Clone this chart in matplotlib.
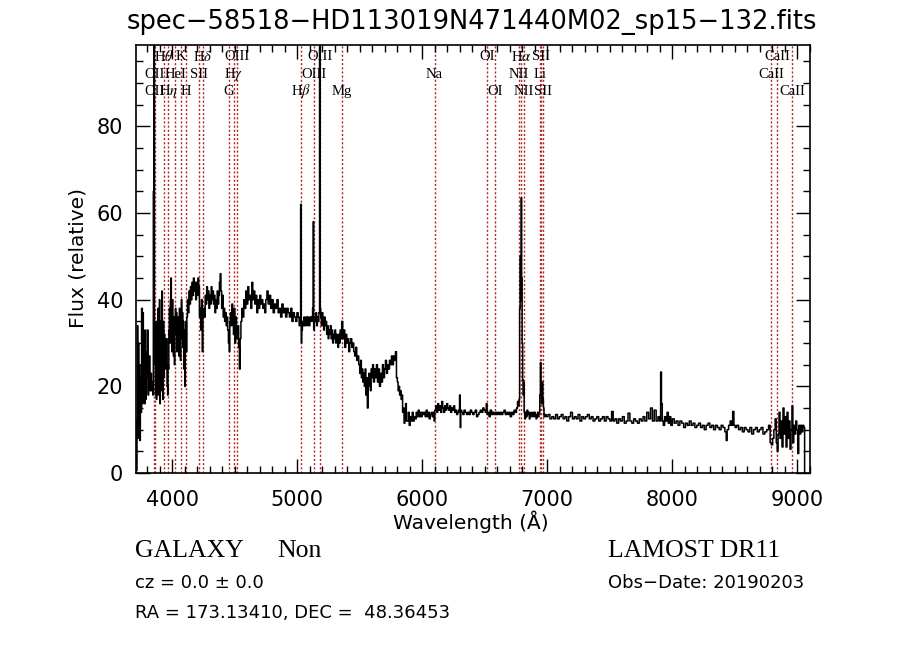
import matplotlib
matplotlib.use("Agg")
import matplotlib.pyplot as plt
from matplotlib.ticker import MultipleLocator
import matplotlib.transforms as mtransforms

plt.rcParams['mathtext.fontset'] = 'stix'

title = "spec\u221258518\u2212HD113019N471440M02_sp15\u2212132.fits"

wave = [3708, 3711, 3714, 3718, 3722, 3726, 3730, 3734, 3738, 3742, 3746, 3750,
        3758, 3762, 3766, 3770, 3775, 3779, 3784, 3788, 3793, 3798, 3803, 3808,
        3813, 3818, 3824, 3830, 3836, 3842, 3846, 3850, 3855, 3859, 3862, 3866,
        3870, 3874, 3878, 3882, 3886, 3890, 3894, 3898, 3902, 3906, 3910, 3914,
        3918, 3922, 3926, 3930, 3934, 3938, 3942, 3946, 3950, 3955, 3960, 3964,
        3967, 3970, 3974, 3978, 3982, 3986, 3990, 3994, 3998, 4002, 4006, 4010,
        4014, 4018, 4022, 4026, 4030, 4034, 4038, 4042, 4046, 4050, 4054, 4058,
        4062, 4066, 4070, 4074, 4078, 4082, 4086, 4090, 4094, 4098, 4102, 4106,
        4110, 4114, 4118, 4124, 4130, 4136, 4142, 4148, 4154, 4160, 4166, 4172,
        4178, 4184, 4190, 4196, 4202, 4208, 4214, 4220, 4225, 4230, 4236, 4242,
        4248, 4254, 4260, 4266, 4272, 4278, 4284, 4290, 4296, 4302, 4308, 4314,
        4320, 4326, 4332, 4338, 4344, 4350, 4356, 4362, 4368, 4374, 4380, 4386,
        4392, 4398, 4404, 4410, 4416, 4422, 4428, 4434, 4440, 4446, 4452, 4458,
        4462, 4468, 4474, 4480, 4486, 4492, 4498, 4504, 4510, 4516, 4522, 4528,
        4534, 4540, 4546, 4552, 4560, 4568, 4576, 4584, 4592, 4600, 4608, 4616,
        4624, 4632, 4640, 4648, 4656, 4664, 4672, 4680, 4688, 4696, 4704, 4712,
        4720, 4728, 4736, 4744, 4752, 4762, 4772, 4782, 4792, 4802, 4812, 4822,
        4832, 4842, 4852, 4862, 4872, 4882, 4892, 4902, 4912, 4922, 4932, 4942,
        4952, 4962, 4972, 4982, 4992, 5002, 5012, 5018, 5024, 5030, 5034, 5038,
        5044, 5050, 5056, 5062, 5068, 5074, 5080, 5086, 5092, 5098, 5104, 5110,
        5116, 5120, 5125, 5129, 5134, 5140, 5146, 5152, 5158, 5164, 5170, 5176,
        5181, 5186, 5190, 5196, 5202, 5208, 5214, 5220, 5226, 5232, 5238, 5244,
        5250, 5256, 5262, 5268, 5274, 5280, 5286, 5292, 5298, 5304, 5310, 5316,
        5322, 5328, 5334, 5340, 5346, 5352, 5360, 5368, 5376, 5384, 5392, 5400,
        5408, 5416, 5424, 5432, 5440, 5448, 5456, 5464, 5472, 5480, 5488, 5496,
        5504, 5510, 5516, 5522, 5528, 5534, 5540, 5546, 5552, 5558, 5564, 5570,
        5576, 5582, 5588, 5594, 5600, 5606, 5614, 5622, 5630, 5638, 5646, 5654,
        5662, 5670, 5678, 5686, 5694, 5702, 5710, 5718, 5726, 5734, 5742, 5750,
        5758, 5766, 5774, 5782, 5790, 5798, 5804, 5810, 5816, 5822, 5828, 5834,
        5840, 5846, 5852, 5858, 5864, 5870, 5876, 5884, 5892, 5900, 5908, 5916,
        5924, 5932, 5940, 5948, 5956, 5964, 5972, 5980, 5988, 5996, 6004, 6012,
        6020, 6028, 6036, 6044, 6052, 6060, 6068, 6076, 6084, 6092, 6098, 6104,
        6112, 6120, 6128, 6136, 6144, 6152, 6160, 6168, 6176, 6184, 6192, 6200,
        6208, 6216, 6224, 6232, 6240, 6248, 6256, 6264, 6272, 6280, 6288, 6296,
        6302, 6306, 6312, 6320, 6330, 6340, 6350, 6360, 6370, 6380, 6390, 6400,
        6410, 6420, 6430, 6440, 6450, 6460, 6470, 6480, 6490, 6500, 6510, 6516,
        6522, 6530, 6540, 6550, 6560, 6570, 6580, 6590, 6600, 6610, 6620, 6630,
        6640, 6650, 6660, 6670, 6680, 6690, 6700, 6710, 6720, 6730, 6740, 6750,
        6760, 6766, 6772, 6778, 6782, 6786, 6790, 6794, 6798, 6802, 6806, 6810,
        6814, 6818, 6824, 6830, 6836, 6842, 6848, 6854, 6860, 6866, 6872, 6878,
        6884, 6890, 6896, 6902, 6908, 6914, 6920, 6926, 6932, 6938, 6944, 6948,
        6952, 6958, 6964, 6968, 6972, 6978, 6985, 7000, 7015, 7030, 7045, 7060,
        7075, 7090, 7105, 7120, 7135, 7150, 7165, 7180, 7195, 7210, 7225, 7240,
        7255, 7270, 7285, 7300, 7315, 7330, 7345, 7360, 7375, 7390, 7405, 7420,
        7435, 7450, 7465, 7480, 7495, 7510, 7522, 7535, 7550, 7565, 7580, 7595,
        7610, 7625, 7640, 7655, 7670, 7685, 7700, 7715, 7730, 7745, 7760, 7775,
        7790, 7805, 7820, 7835, 7850, 7865, 7880, 7895, 7905, 7912, 7918, 7925,
        7935, 7945, 7955, 7965, 7975, 7985, 7995, 8010, 8025, 8040, 8055, 8070,
        8085, 8100, 8115, 8130, 8145, 8160, 8175, 8190, 8205, 8220, 8235, 8250,
        8265, 8280, 8295, 8310, 8325, 8340, 8355, 8370, 8385, 8400, 8415, 8430,
        8437, 8445, 8460, 8470, 8480, 8490, 8500, 8510, 8525, 8540, 8555, 8570,
        8585, 8600, 8615, 8630, 8645, 8660, 8675, 8690, 8705, 8720, 8735, 8750,
        8765, 8780, 8790, 8800, 8810, 8820, 8830, 8838, 8845, 8852, 8860, 8868,
        8876, 8884, 8892, 8900, 8908, 8916, 8924, 8932, 8940, 8948, 8956, 8963,
        8970, 8978, 8986, 8994, 9002, 9010, 9018, 9026, 9034, 9042, 9050, 9058,
        9064]

flux = [2, 12, 0.5, 9, 34, 8, 30, 15, 25, 7.5, 22, 14,
        38, 16, 37, 20, 30, 16, 33, 17, 28, 22, 33, 18,
        22, 27, 19, 23, 19, 21, 18, 65, 110, 30, 25, 18,
        35, 17, 30, 20, 38, 18, 28, 40, 16, 35, 19, 31,
        42, 27, 17, 35, 22, 32, 25, 30, 24, 31, 20, 18,
        25, 24, 33, 38, 30, 40, 45, 35, 28, 40, 33, 27,
        36, 25, 35, 38, 32, 37, 28, 35, 30, 36, 27, 38,
        33, 26, 35, 40, 31, 37, 29, 35, 24, 33, 20, 28,
        35, 28, 36, 40, 37, 42, 39, 43, 40, 44, 41, 45,
        42, 44, 40, 44, 41, 45, 43, 36, 38, 33, 40, 28,
        36, 38, 36, 41, 39, 43, 40, 42, 38, 41, 39, 43,
        40, 42, 39, 41, 37, 40, 38, 42, 39, 41, 44, 46,
        42, 38, 41, 36, 38, 35, 37, 34, 36, 33, 30, 28,
        35, 37, 34, 39, 35, 32, 38, 30, 36, 33, 31, 34,
        29, 24, 31, 35, 38, 36, 40, 38, 42, 39, 43, 40,
        41, 38, 44, 40, 42, 39, 41, 37, 40, 38, 41, 39,
        40, 38, 39, 37, 40, 42, 39, 41, 38, 40, 37, 39,
        38, 40, 37, 38, 36, 39, 37, 38, 36, 38, 37, 36,
        38, 35, 37, 36, 35, 37, 36, 34, 35, 62, 30, 33,
        35, 34, 36, 34, 35, 36, 34, 36, 35, 34, 36, 35,
        36, 35, 38, 58, 33, 36, 35, 37, 34, 36, 35, 37,
        110, 38, 36, 34, 37, 35, 33, 36, 34, 35, 32, 34,
        31, 33, 32, 34, 31, 33, 30, 32, 31, 33, 30, 32,
        31, 29, 32, 30, 33, 31, 35, 31, 33, 29, 32, 30,
        31, 28, 30, 31, 29, 30, 28, 27, 29, 26, 27, 25,
        23, 26, 22, 24, 21, 23, 20, 24, 18, 22, 15, 20,
        23, 21, 19, 24, 22, 25, 21, 24, 22, 25, 21, 24,
        20, 23, 21, 25, 22, 24, 26, 23, 25, 24, 26, 25,
        27, 25, 27, 26, 28, 22, 21, 19, 20, 18, 19, 17,
        18, 14, 15, 11.5, 14, 16, 12, 12, 14, 11, 13, 12,
        14, 12, 13, 12.5, 14, 13, 14.5, 13, 14, 13, 14, 13.5,
        14, 13, 14.5, 13, 14, 12.5, 13.5, 14, 13, 14, 12, 14.5,
        15.5, 14, 16, 14.5, 15.5, 14, 16.5, 15, 14, 15.5, 14.5, 16,
        15, 14.5, 15.5, 14, 15, 14.5, 15.5, 14, 14.5, 13.5, 14, 14.5,
        18, 10.5, 14.5, 14, 13.5, 14.5, 14, 13.5, 14, 13.5, 14.5, 14,
        13.5, 14, 14.5, 13, 13.5, 14, 14.5, 14, 15, 14.5, 14, 16,
        13.5, 14, 13, 14.5, 13.5, 14, 13.5, 14, 13.5, 14, 13.5, 14,
        13.5, 14, 14.5, 13.5, 14, 13.5, 14, 13, 14, 13.5, 14.5, 14,
        15, 16.5, 15.5, 17, 38, 50, 40, 63.5, 45, 30, 21.5, 18,
        21, 14, 12.5, 14, 13, 14.5, 13.5, 14, 12.5, 13.5, 14, 13,
        13.5, 14, 13, 14, 13.5, 12.5, 13, 14, 13, 14, 18, 25.5,
        19, 16, 21, 17, 15, 13, 13.5, 13, 13.5, 12.5, 13, 12.5,
        13.5, 12.5, 13, 13.5, 12.5, 13, 12, 13, 14, 12.5, 13, 12.5,
        13.5, 12, 13, 12.5, 13, 13.5, 12.5, 13, 12, 12.5, 13, 12,
        12.5, 13, 12, 13, 12.5, 12, 14.2, 12, 12.5, 11.5, 12.5, 12,
        13, 11.5, 12, 13.8, 12, 11.5, 12.5, 12, 11.5, 12.5, 12, 13,
        12, 14, 12.5, 15, 12, 14.5, 12, 13, 12, 23.3, 16, 12,
        11, 13, 12, 14, 11.5, 13, 11, 12.5, 11.5, 12, 11, 12,
        11.5, 10.5, 11.5, 11, 12, 11, 11.5, 10.5, 11, 11.5, 10.5, 11,
        10, 11, 11.5, 10.5, 11, 10, 11, 10.5, 10, 11, 10.5, 9.5,
        7.5, 10, 11, 12, 11, 14.2, 11, 10.5, 11, 10, 10.5, 9.5,
        10.5, 10, 9.5, 10.5, 9, 10, 10.5, 9.5, 10, 10.5, 9, 9.5,
        10, 11, 7, 6.5, 8, 10, 12.5, 7, 5, 9, 14, 8,
        12, 6, 15, 9, 13, 6, 14, 8, 12, 5.5, 10, 15.5,
        7, 11, 9, 12, 10, 4.5, 11, 9, 11, 9.5, 11, 10.5,
        0]

# line markers: label, rest wavelength, label row (1 = top)
line_names = ["OII", "OII", "H$\\theta$", "H$\\eta$", "HeI", "K", "H", "SII", "H$\\delta$",
              "G", "H$\\gamma$", "OIII", "H$\\beta$", "OIII", "OIII", "Mg", "Na",
              "OI", "OI", "NII", "H$\\alpha$", "NII", "Li", "SII", "SII",
              "CaII", "CaII", "CaII"]
line_rest = [3726.0, 3728.8, 3797.9, 3835.4, 3888.6, 3933.7, 3968.5, 4072.0, 4101.7,
             4304.4, 4340.5, 4363.2, 4861.3, 4958.9, 5006.8, 5175.4, 5894.0,
             6300.3, 6363.8, 6548.0, 6562.8, 6583.4, 6707.8, 6716.4, 6730.8,
             8498.0, 8542.0, 8662.0]
line_row = [3, 2, 1, 3, 2, 1, 3, 2, 1,
            3, 2, 1, 3, 2, 1, 3, 2,
            1, 3, 2, 1, 3, 2, 1, 3,
            2, 1, 3]
redshift = 0.0348

obj_class = "GALAXY"
obj_sub = "Non"
release = "LAMOST DR11"
cz_text = "cz = 0.0 \u00b1 0.0"
obs_text = "Obs\u2212Date: 20190203"
radec_text = "RA = 173.13410, DEC =  48.36453"

fig = plt.figure(figsize=(9.0, 6.49), dpi=100)
ax = fig.add_axes([0.1508, 0.2712, 0.7492, 0.6595])

lc = '#b02626'
for lam in line_rest:
    ax.axvline(lam * (1 + redshift), color=lc, lw=1.0, ls=(0, (1.5, 1.5)), zorder=1)

ax.plot(wave, flux, color='black', lw=1.1, drawstyle='steps-mid', zorder=2)

trans = mtransforms.blended_transform_factory(ax.transData, ax.transAxes)
row_y = {1: 0.972, 2: 0.932, 3: 0.892}
for name, lam, r in zip(line_names, line_rest, line_row):
    ax.text(lam * (1 + redshift), row_y[r], name, transform=trans,
            ha='center', va='center', fontsize=10.5, family='Liberation Serif',
            zorder=3)

ax.set_xlim(3707, 9104)
ax.set_ylim(0, 98.8)
ax.xaxis.set_major_locator(MultipleLocator(1000))
ax.xaxis.set_minor_locator(MultipleLocator(100))
ax.yaxis.set_major_locator(MultipleLocator(20))
ax.yaxis.set_minor_locator(MultipleLocator(5))
ax.tick_params(which='both', direction='in', top=True, right=True, width=1.0,
               labelsize=15, colors='black')
ax.tick_params(which='major', length=10)
ax.tick_params(which='minor', length=5)
ax.tick_params(axis='x', which='major', pad=12)
ax.tick_params(axis='y', which='major', pad=9)
for sp in ax.spines.values():
    sp.set_linewidth(1.2)

fig.text(0.524, 0.966, title, ha='center', va='center', fontsize=18.5,
         family='DejaVu Sans')
fig.text(78 / 900, 1 - 258 / 649, "Flux (relative)", rotation=90, ha='center',
         va='center', fontsize=14.5, family='DejaVu Sans')
fig.text(471 / 900, 1 - 522 / 649, "Wavelength (\u00c5)", ha='center', va='center',
         fontsize=14.5, family='DejaVu Sans')

fig.text(135 / 900, 1 - 551 / 649, obj_class, ha='left', va='center',
         fontsize=18.5, family='Liberation Serif')
fig.text(277 / 900, 1 - 551 / 649, obj_sub, ha='left', va='center',
         fontsize=18.5, family='Liberation Serif')
fig.text(608 / 900, 1 - 551 / 649, release, ha='left', va='center',
         fontsize=18.5, family='Liberation Serif')
fig.text(135 / 900, 1 - 583 / 649, cz_text, ha='left', va='center',
         fontsize=13, family='DejaVu Sans')
fig.text(608 / 900, 1 - 583 / 649, obs_text, ha='left', va='center',
         fontsize=13, family='DejaVu Sans')
fig.text(135 / 900, 1 - 613 / 649, radec_text, ha='left', va='center',
         fontsize=13, family='DejaVu Sans')

fig.savefig("out.png", dpi=100, facecolor='white')
